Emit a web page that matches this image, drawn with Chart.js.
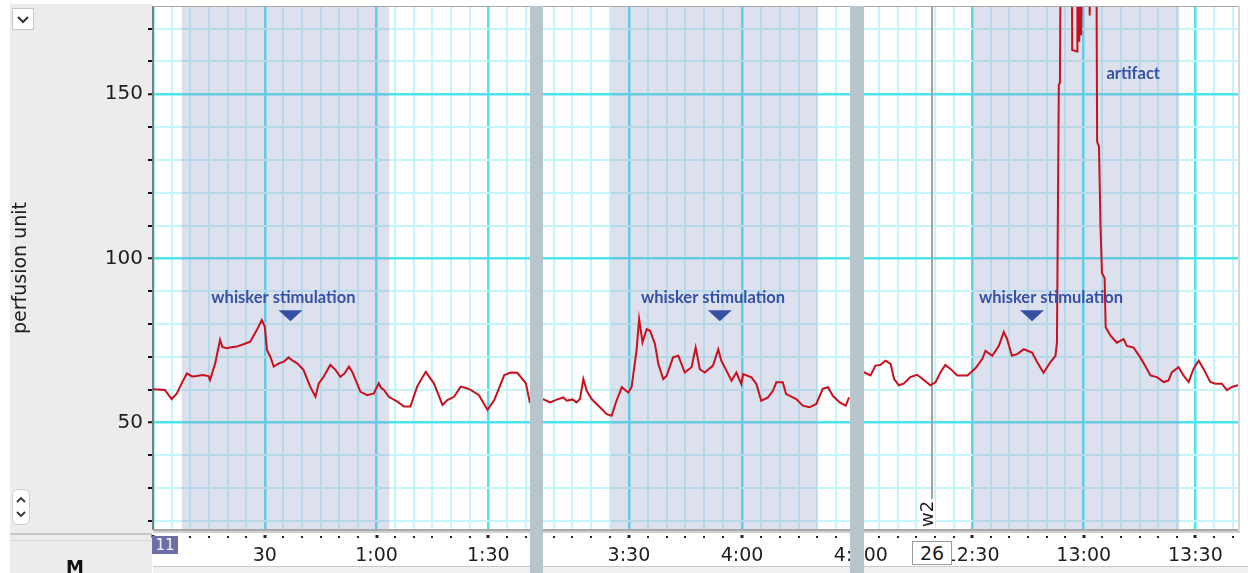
<!DOCTYPE html>
<html>
<head>
<meta charset="utf-8">
<title>Perfusion</title>
<script src="https://cdnjs.cloudflare.com/ajax/libs/Chart.js/4.4.1/chart.umd.min.js"></script>
<style>
body { margin:0; width:1248px; height:573px; position:relative; overflow:hidden; background:#fff; font-family:"DejaVu Sans", sans-serif; }
.abs { position:absolute; }
#side { left:10px; top:4px; width:142px; height:569px; background:#ececec; }
.clip { position:absolute; top:0; height:573px; overflow:hidden; }
canvas { position:absolute; top:0; }
.sep { position:absolute; top:6px; height:567px; background:#b9c5cd; }
.box { position:absolute; text-align:center; }
</style>
</head>
<body>

<div id="side" class="abs"></div>
<div class="abs" style="left:10px;top:533px;width:142px;height:2px;background:#c6c6c6"></div>
<div class="abs" style="left:10px;top:540px;width:142px;height:1px;background:#d6d6d6"></div>

<canvas id="c1" width="530" height="573" style="left:0"></canvas>
<div class="clip" style="left:543px;width:307px"><canvas id="c2" width="337" height="573" style="left:0"></canvas></div>
<div class="clip" style="left:864px;width:376px"><canvas id="c3" width="410" height="573" style="left:-34px"></canvas></div>

<!-- frame bits -->
<div class="abs" style="left:153px;top:6px;width:1087px;height:1px;background:#a8a8a8"></div>
<div class="abs" style="left:153px;top:529px;width:1087px;height:2px;background:#a9a9a9"></div>
<div class="abs" style="left:153px;top:531px;width:1087px;height:2px;background:#d0d0d0"></div>
<div class="abs" style="left:1238px;top:6px;width:2px;height:525px;background:#d8d8d8"></div>
<div class="abs" style="left:153px;top:566px;width:1095px;height:7px;background:#f0f0f0;border-top:1px solid #c9c9c9"></div>
<div class="sep" style="left:530px;width:13px"></div>
<div class="sep" style="left:850px;width:14px"></div>

<!-- controls -->
<div class="abs" style="left:12px;top:8px;width:22px;height:22px;background:#fff;border:1px solid #c8c8c8;box-sizing:border-box">
  <svg width="20" height="20"><polyline points="5,8 10,13 15,8" fill="none" stroke="#333" stroke-width="2"/></svg>
</div>
<div class="abs" style="left:12px;top:489px;width:18px;height:36px;background:#fff;border:1px solid #cfcfcf;border-radius:6px;box-sizing:border-box">
  <svg width="16" height="34"><polyline points="4,12 8,8 12,12" fill="none" stroke="#333" stroke-width="1.8"/><polyline points="4,22 8,26 12,22" fill="none" stroke="#333" stroke-width="1.8"/></svg>
</div>
<div class="abs" style="left:66px;top:556px;font-weight:bold;font-size:18px;color:#111">M</div>
<div class="box" style="left:152px;top:536px;width:26px;height:18px;line-height:18px;background:#6b6fa6;color:#eef;font-size:15px">11</div>
<div class="box" style="left:912px;top:541px;width:40px;height:24px;line-height:23px;background:#fff;border:1px solid #9a9a9a;box-sizing:border-box;font-size:19px;color:#1e1e1e">26</div>

<script>
// LDF trace, time in seconds, perfusion units
const t1 = [0, 3.2, 5.0, 6.4, 7.7, 9.1, 10.5, 11.7, 13.3, 14.9, 15.3, 16.7, 18.0, 18.6, 19.8, 21.0, 22.5, 24.3, 26.1, 27.9,
  29.2, 30.0, 30.6, 31.5, 32.4, 33.8, 35.1, 36.4, 37.5, 38.7, 40.4, 42.2, 43.6, 44.5, 45.8, 47.6, 49.0, 50.3, 51.5, 52.6,
  53.5, 55.7, 57.5, 59.3, 60.6, 61.2, 62.0, 63.3, 65.6, 67.4, 69.1, 70.9, 73.2, 75.4, 77.7, 79.0, 80.8, 82.6, 84.0, 85.3,
  87.5, 89.8, 91.6, 94.3, 96.0, 97.8, 100.1, 101.2];
const pu1 = [60.1, 59.9, 57.1, 58.8, 61.9, 64.9, 64.0, 64.1, 64.4, 64.1, 62.9, 68.0, 75.1, 73.0, 72.6, 72.9, 73.1, 73.8, 74.6, 78.2,
  81.2, 79.2, 72.1, 70.0, 67.0, 68.0, 68.5, 69.8, 68.8, 68.0, 66.0, 60.9, 57.8, 61.9, 63.9, 67.5, 66.0, 63.9, 65.0, 67.0,
  65.4, 59.3, 58.3, 58.8, 61.9, 60.5, 59.9, 57.8, 56.3, 54.8, 54.8, 60.9, 65.4, 61.9, 55.3, 56.8, 57.8, 60.9, 60.5, 59.9,
  58.3, 53.8, 56.8, 64.4, 65.2, 65.1, 61.9, 55.8];

const t2 = [187.2, 189.1, 191.0, 192.6, 193.5, 195.0, 196.1, 197.0, 197.9, 198.8, 200.1, 202.3, 204.1, 205.4, 206.7, 208.1, 209.8, 210.7, 212.0, 212.7,
  213.6, 214.7, 215.6, 216.9, 217.8, 219.1, 220.0, 221.7, 223.1, 224.8, 226.6, 227.7, 228.8, 230.1, 232.3, 233.7, 234.5, 235.9, 237.2, 238.5,
  239.8, 240.3, 242.5, 243.8, 245.1, 246.9, 248.2, 249.1, 250.8, 251.7, 254.4, 256.1, 257.9, 259.7, 261.4, 262.8, 264.1, 265.9, 267.5, 268.4];
const pu2 = [57.1, 56.1, 57.0, 57.6, 56.6, 57.0, 56.1, 57.1, 63.2, 59.6, 57.1, 54.6, 52.5, 52.0, 56.6, 60.7, 59.1, 60.7, 71.8, 81.5,
  74.4, 78.4, 77.9, 73.9, 67.8, 63.2, 64.2, 69.8, 70.3, 65.2, 66.8, 72.8, 66.2, 65.2, 67.3, 72.3, 68.8, 65.7, 62.7, 65.2,
  61.7, 64.7, 63.7, 61.7, 56.6, 57.6, 59.6, 62.2, 62.2, 58.6, 57.1, 55.1, 54.6, 55.6, 60.2, 60.7, 58.1, 56.1, 55.1, 57.6];

// 195 = off scale (artifact clipped at top)
const t3 = [720.5, 722.7, 724.0, 725.3, 726.7, 728.1, 729.0, 730.3, 731.6, 733.4, 735.2, 736.6, 738.8, 740.2, 741.5, 742.8, 744.2, 746.0, 748.7, 750.9,
  752.7, 753.6, 755.4, 757.2, 758.5, 759.4, 760.7, 762.1, 763.9, 766.1, 767.5, 769.2, 771.0, 772.4, 772.8, 773.3, 773.6, 773.8, 776.8, 776.9,
  778.2, 778.3, 778.6, 778.8, 779.1, 779.3, 779.6, 781.5, 781.6, 781.8, 783.4, 783.6, 784.1, 784.5, 784.9, 785.6, 785.9, 787.2, 788.9, 790.7,
  791.6, 793.4, 795.2, 797.0, 797.9, 799.7, 801.5, 802.8, 803.7, 805.5, 806.8, 808.2, 809.5, 810.9, 812.2, 814.0, 815.4, 817.1, 818.5, 819.8,
  821.4, 822.5];
const pu3 = [65.5, 64.3, 67.3, 67.5, 68.8, 67.8, 63.3, 61.3, 61.8, 63.8, 64.5, 63.3, 61.3, 62.3, 65.3, 67.5, 66.3, 64.3, 64.3, 66.5,
  69.3, 71.8, 70.3, 73.3, 77.6, 75.4, 70.3, 70.8, 72.3, 71.3, 68.3, 65.1, 68.3, 70.3, 74.3, 152.8, 153.5, 195, 195, 163.5,
  163, 195, 195, 166, 195, 168, 195, 195, 174, 195, 195, 135.6, 134, 110, 95.5, 94, 79, 76.4, 74.3, 75.4,
  73.3, 72.8, 69.8, 66.3, 64.3, 63.8, 62.3, 62.8, 65.3, 66.8, 64.3, 62.3, 66.3, 68.8, 66.3, 62.3, 61.8, 61.8, 59.8, 60.8,
  61.3, 61.3];

const times = [t1, t2, t3];
const values = [pu1, pu2, pu3];

// visible window of each panel (s)
const xMin = [0, 187.2, 711.8];
const xMax = [101.2, 276.6, 822];
const yMin = 17.5, yMax = 176.6;

// stimulation windows (shaded)
const stimStart = [7.7, 205.2, 750];
const stimEnd = [63.4, 260.0, 805.7];

// annotations
const noteText = ['whisker stimulation', 'whisker stimulation', 'whisker stimulation', 'artifact'];
const noteT = [35, 232.3, 771.2, 793.3];
const noteV = [88.1, 88.1, 88.1, 156.4];
const notePanel = [0, 1, 2, 2];
const arrowT = [36.9, 234.1, 766.1];
const arrowV = [80.8, 80.8, 80.8];
const arrowPanel = [0, 1, 2];
const markT = [739.25];
const markName = ['w2'];
const markPanel = [2];

function fmtTime(v) {
  if (v === 0 || v % 30 !== 0) return '';
  if (v < 60) return String(v);
  return Math.floor(v / 60) + ':' + String(v % 60).padStart(2, '0');
}

const annoPlugin = {
  id: 'anno',
  beforeDraw(chart) {
    const a = chart.chartArea, ctx = chart.ctx;
    ctx.save();
    ctx.fillStyle = '#fff';
    ctx.fillRect(a.left, a.top, a.width, a.height);
    ctx.restore();
  },
  beforeDatasetsDraw(chart, args, opts) {
    const a = chart.chartArea, ctx = chart.ctx, x = chart.scales.x;
    const p = opts.panel;
    ctx.save();
    ctx.beginPath();
    ctx.rect(a.left, a.top, a.width, a.height);
    ctx.clip();
    const x0 = x.getPixelForValue(stimStart[p]), x1 = x.getPixelForValue(stimEnd[p]);
    ctx.fillStyle = 'rgba(150,160,200,0.32)';
    ctx.fillRect(x0, a.top, x1 - x0, a.height);
    for (let k = 0; k < markT.length; k++) {
      if (markPanel[k] !== p) continue;
      const mx = Math.round(x.getPixelForValue(markT[k]));
      ctx.fillStyle = '#a3a3a3';
      ctx.fillRect(mx - 1, a.top, 2, a.height);
      ctx.fillStyle = '#fff';
      ctx.fillRect(mx - 12, a.bottom - 30, 15, 30);
      ctx.save();
      ctx.translate(mx - 4, a.bottom - 15);
      ctx.rotate(-Math.PI / 2);
      ctx.fillStyle = '#1e1e1e';
      ctx.font = '18px "DejaVu Sans"';
      ctx.textAlign = 'center';
      ctx.textBaseline = 'middle';
      ctx.fillText(markName[k], 0, 0);
      ctx.restore();
    }
    ctx.restore();
  },
  afterDatasetsDraw(chart, args, opts) {
    const ctx = chart.ctx, x = chart.scales.x, y = chart.scales.y;
    const p = opts.panel;
    ctx.save();
    ctx.fillStyle = '#3551a3';
    ctx.font = 'bold 16.5px Lato';
    ctx.textAlign = 'center';
    ctx.textBaseline = 'middle';
    for (let k = 0; k < noteText.length; k++) {
      if (notePanel[k] !== p) continue;
      ctx.fillText(noteText[k], x.getPixelForValue(noteT[k]), y.getPixelForValue(noteV[k]));
    }
    for (let k = 0; k < arrowT.length; k++) {
      if (arrowPanel[k] !== p) continue;
      const ax = x.getPixelForValue(arrowT[k]), ay = y.getPixelForValue(arrowV[k]);
      ctx.beginPath();
      ctx.moveTo(ax - 12, ay - 11);
      ctx.lineTo(ax + 12, ay - 11);
      ctx.lineTo(ax, ay);
      ctx.closePath();
      ctx.fill();
    }
    ctx.restore();
  },
  afterDraw(chart) {
    // dotted time ruler under the plot
    const ctx = chart.ctx, x = chart.scales.x, a = chart.chartArea;
    ctx.save();
    ctx.fillStyle = '#222';
    x.ticks.forEach(tk => {
      const px = Math.round(x.getPixelForValue(tk.value));
      const big = tk.value % 30 === 0;
      ctx.fillRect(px - (big ? 1.5 : 1), a.bottom + (big ? 6 : 7), big ? 3 : 2, big ? 3 : 2);
    });
    ctx.restore();
  }
};

const majorCol = '#4ee3f1', minorCol = '#c4f5f9';

function makeChart(id, p) {
  const yAxis = {
    type: 'linear', min: yMin, max: yMax,
    grid: {
      color: c => (c.tick && c.tick.value % 50 === 0) ? majorCol : minorCol,
      lineWidth: c => (c.tick && c.tick.value % 50 === 0) ? 2.5 : 2,
      drawTicks: p === 0, tickLength: 5, tickColor: '#111', tickWidth: 2
    },
    ticks: {
      stepSize: 10, includeBounds: false, autoSkip: false, display: p === 0, padding: 5,
      color: '#1e1e1e', font: { family: 'DejaVu Sans', size: 20 },
      callback: v => v % 50 === 0 ? v : ''
    },
    border: { display: p === 0, color: '#7d7d7d', width: 2 },
    afterFit: s => { s.width = p === 0 ? 153 : 0; s.paddingTop = 0; s.paddingBottom = 0; }
  };
  if (p === 0) {
    yAxis.title = { display: true, text: 'perfusion unit', color: '#1e1e1e',
      font: { family: 'DejaVu Sans', size: 19 }, padding: { top: 10, bottom: 0 } };
  }
  return new Chart(document.getElementById(id), {
    type: 'line',
    data: {
      datasets: [{
        data: times[p].map((t, k) => ({ x: t, y: values[p][k] })),
        borderColor: '#c8101e',
        borderWidth: 2,
        pointRadius: 0,
        tension: 0,
        fill: false
      }]
    },
    options: {
      responsive: false,
      animation: false,
      layout: { padding: { top: 7, left: 0, right: 0, bottom: 0 } },
      plugins: { legend: { display: false }, tooltip: { enabled: false }, anno: { panel: p } },
      scales: {
        x: {
          type: 'linear', min: xMin[p], max: xMax[p],
          grid: {
            color: c => (c.tick && c.tick.value % 30 === 0) ? majorCol : minorCol,
            lineWidth: c => (c.tick && c.tick.value % 30 === 0) ? 2.5 : 2,
            drawTicks: false
          },
          border: { display: false },
          ticks: {
            stepSize: 5, includeBounds: false, autoSkip: false, maxRotation: 0, padding: 16,
            color: '#1e1e1e', font: { family: 'DejaVu Sans', size: 19 },
            callback: fmtTime
          },
          afterFit: s => { s.height = 44; s.paddingLeft = 0; s.paddingRight = 0; }
        },
        y: yAxis
      }
    },
    plugins: [annoPlugin]
  });
}

makeChart('c1', 0);
makeChart('c2', 1);
makeChart('c3', 2);
</script>
</body>
</html>
